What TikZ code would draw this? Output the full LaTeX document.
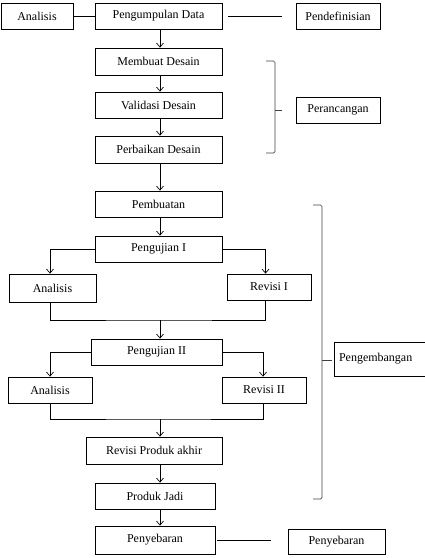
\documentclass[tikz,border=0pt]{standalone}
\usepackage{fontspec}
\setmainfont{Liberation Serif}
\usetikzlibrary{arrows.meta,calc}

\begin{document}
\begin{tikzpicture}[x=1pt,y=-1pt,
    kotak/.style={draw, line width=0.8pt, minimum height=26, inner sep=1pt, font=\fontsize{12}{14}\selectfont},
    panah/.style={line width=0.7pt, -{Straight Barb[length=4pt,width=7pt]}},
    garis/.style={line width=0.7pt},
    kurung/.style={line width=0.7pt, draw=black!75, rounded corners=1.5pt}]
    \useasboundingbox (0,0) rectangle (425,558);
    \coordinate (tengah) at (160,0);
    % pendefinisian
    \node[kotak, minimum width=72] (ana0) at (37,16) {Analisis};
    \node[kotak, minimum width=127] (data) at (158.5,16) {Pengumpulan Data};
    \node[kotak, minimum width=84] (def) at (338,16) {Pendefinisian};
    \draw[garis] (ana0.east) -- (data.west);
    \draw[garis] ([xshift=6]data.east) -- ([xshift=-14]def.west);
    % perancangan
    \node[kotak, minimum width=127, minimum height=27] (buat) at (158.5,61.5) {Membuat Desain};
    \node[kotak, minimum width=127] (vali) at (158.5,105) {Validasi Desain};
    \node[kotak, minimum width=127, minimum height=27] (perb) at (158.5,149.5) {Perbaikan Desain};
    \node[kotak, minimum width=84] (ranc) at (338,110) {Perancangan};
    \draw[panah] (data.south -| tengah) -- (buat.north -| tengah);
    \draw[panah] (buat.south -| tengah) -- (vali.north -| tengah);
    \draw[panah] (vali.south -| tengah) -- (perb.north -| tengah);
    \draw[kurung] (266,61) -- (275,61) -- (275,153) -- (266,153);
    \draw[kurung] (275,110) -- (282,110);
    % pengembangan
    \node[kotak, minimum width=127] (pemb) at (158.5,204) {Pembuatan};
    \node[kotak, minimum width=127] (uji1) at (158.5,249) {Pengujian I};
    \node[kotak, minimum width=87, minimum height=28] (ana1) at (52.5,288) {Analisis};
    \node[kotak, minimum width=84] (rev1) at (269,287) {Revisi I};
    \node[kotak, minimum width=131] (uji2) at (156.5,352) {Pengujian II};
    \node[kotak, minimum width=84] (ana2) at (50,390) {Analisis};
    \node[kotak, minimum width=84] (rev2) at (264,390) {Revisi II};
    \node[kotak, minimum width=136, minimum height=27] (rpa) at (154,450.5) {Revisi Produk akhir};
    \node[kotak, minimum width=120] (jadi) at (155,496) {Produk Jadi};
    \node[kotak, minimum width=98, minimum height=34, text width=88] (kemb) at (383,359) {Pengembangan};
    \draw[panah] (perb.south -| tengah) -- (pemb.north -| tengah);
    \draw[panah] (pemb.south -| tengah) -- (uji1.north -| tengah);
    \draw[panah] (uji1.west) -| ([xshift=-2.5]ana1.north);
    \draw[panah] (uji1.east) -| ([xshift=-3.5]rev1.north);
    \coordinate (gabung1) at (160,320);
    \draw[garis] ([xshift=-2.5]ana1.south) |- (gabung1) -| ([xshift=-3.5]rev1.south);
    \draw[panah] (gabung1) -- (uji2.north -| gabung1);
    \draw[panah] (uji2.west) -| (ana2.north);
    \draw[panah] (uji2.east) -| ([xshift=-1]rev2.north);
    \coordinate (gabung2) at (160,419);
    \draw[garis] (ana2.south) |- (gabung2) -| ([xshift=-1]rev2.south);
    \draw[panah] (gabung2) -- (rpa.north -| gabung2);
    \draw[panah] (rpa.south -| tengah) -- (jadi.north -| tengah);
    \draw[kurung] (313,205) -- (322,205) -- (322,499) -- (313,499);
    \draw[kurung] (322,360) -- (332,360);
    % penyebaran
    \node[kotak, minimum width=120, minimum height=28] (seb) at (155,540) {Penyebaran};
    \node[kotak, minimum width=97, minimum height=25] (seb2) at (336.5,541.5) {Penyebaran};
    \draw[panah] (jadi.south -| tengah) -- (seb.north -| tengah);
    \draw[garis] ([xshift=2]seb.east) -- ($(seb.east -| seb2.west)+(-17,0)$);
\end{tikzpicture}
\end{document}
